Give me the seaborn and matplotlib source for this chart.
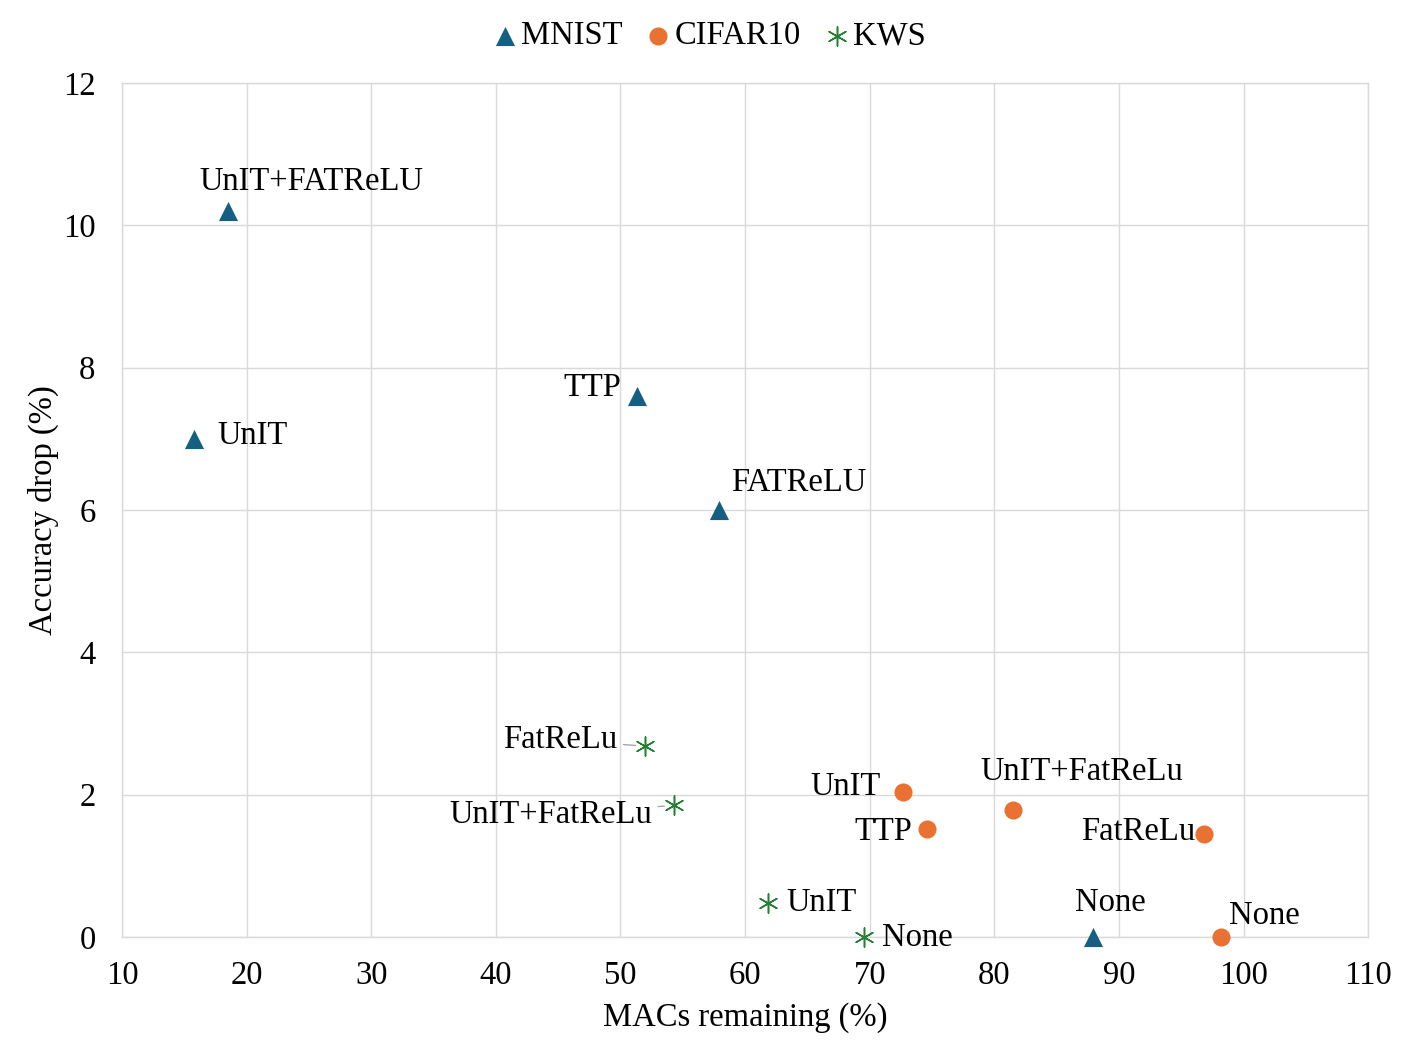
import matplotlib
matplotlib.use('Agg')
import matplotlib.pyplot as plt
import seaborn as sns
import pandas as pd

# data
mnist_methods = ['UnIT+FATReLU', 'UnIT', 'TTP', 'FATReLU', 'None']
mnist_macs = [18.5, 15.8, 51.3, 57.9, 87.9]
mnist_drop = [10.2, 7.0, 7.6, 6.0, 0.0]

cifar_methods = ['UnIT', 'TTP', 'UnIT+FatReLu', 'FatReLu', 'None']
cifar_macs = [72.7, 74.6, 81.5, 96.8, 98.2]
cifar_drop = [2.04, 1.52, 1.78, 1.45, 0.0]

kws_methods = ['FatReLu', 'UnIT+FatReLu', 'UnIT', 'None']
kws_macs = [52.0, 54.3, 61.8, 69.5]
kws_drop = [2.68, 1.85, 0.48, 0.0]

x_ticks = [10, 20, 30, 40, 50, 60, 70, 80, 90, 100, 110]
y_ticks = [0, 2, 4, 6, 8, 10, 12]

# label placement: (dx px, dy px, ha, leader line)
mnist_lbl = [(83, 29, 'center', False), (23, 3, 'left', False), (-16, 8, 'right', False),
             (12, 27, 'left', False), (18, 34, 'center', False)]
cifar_lbl = [(-23, 5, 'right', False), (-15, -3, 'right', False), (69, 39, 'center', False),
             (-8, 2, 'right', False), (8, 21, 'left', False)]
kws_lbl = [(-28, 7, 'right', True), (-22, -9, 'right', True), (19, 0, 'left', False),
           (18, -1, 'left', False)]

FS = 23.5

sns.set_theme(style='whitegrid')
plt.rcParams['font.family'] = ['Liberation Serif', 'DejaVu Serif']
plt.rcParams['text.color'] = 'black'

fig = plt.figure(figsize=(14.12, 10.55), dpi=100)
ax = fig.add_axes([0.0864, 0.1118, 0.8826, 0.8095])

series = [
    ('MNIST', mnist_methods, mnist_macs, mnist_drop, '^', '#156082', 190, mnist_lbl),
    ('CIFAR10', cifar_methods, cifar_macs, cifar_drop, 'o', '#E97132', 170, cifar_lbl),
    ('KWS', kws_methods, kws_macs, kws_drop, (6, 2, 0), '#267F33', 190, kws_lbl),
]

for name, methods, xs, ys, mk, col, sz, lbls in series:
    df = pd.DataFrame({'MACs': xs, 'Drop': ys, 'Method': methods})
    if mk == (6, 2, 0):
        sns.scatterplot(data=df, x='MACs', y='Drop', marker=mk, color=col, s=sz,
                        linewidth=1.1, label=name, ax=ax, zorder=4, clip_on=False)
    else:
        sns.scatterplot(data=df, x='MACs', y='Drop', marker=mk, color=col, s=sz,
                        linewidth=0, label=name, ax=ax, zorder=4, clip_on=False)
    for (m, xv, yv, (dx, dy, ha, lead)) in zip(methods, xs, ys, lbls):
        kw = {}
        if lead:
            kw['arrowprops'] = dict(arrowstyle='-', color='#a6a6a6', lw=1.0,
                                    shrinkA=2, shrinkB=7)
        ax.annotate(m, (xv, yv), xytext=(dx, dy), textcoords='offset pixels',
                    ha=ha, va='center', fontsize=FS, color='black', zorder=5, **kw)

ax.set_xlim(10, 110)
ax.set_ylim(0, 12)
ax.set_xticks(x_ticks)
ax.set_yticks(y_ticks)
ax.tick_params(axis='both', labelsize=FS, colors='black', length=0)
ax.tick_params(axis='x', pad=17)
ax.tick_params(axis='y', pad=19)
ax.grid(True, color='#d9d9d9', linewidth=1.0)
for sp in ax.spines.values():
    sp.set_color('#d9d9d9')
    sp.set_linewidth(1.0)
ax.set_xlabel('MACs remaining (%)', fontsize=FS, color='black', labelpad=8)
ax.set_ylabel('Accuracy drop (%)', fontsize=FS, color='black', labelpad=3)

leg = ax.legend(loc='center', bbox_to_anchor=(0.4696, 1.0549), ncol=3, frameon=False,
                fontsize=FS, handletextpad=0.0, columnspacing=0.6, markerscale=1.0,
                borderaxespad=0, handlelength=1.0)
for t in leg.get_texts():
    t.set_color('black')

fig.savefig('out.png', dpi=100)
plt.close(fig)
